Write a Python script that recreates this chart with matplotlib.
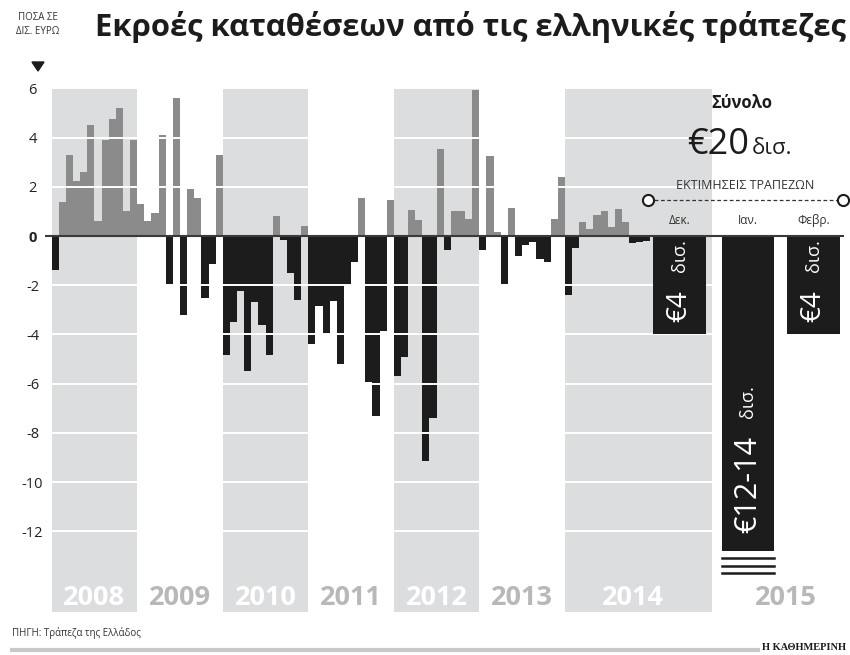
import numpy as np
import matplotlib.pyplot as plt
from matplotlib.patches import Polygon

# monthly deposit flows, bn euro, Jan 2008 .. Dec 2014
flows_2008 = [-1.4, 1.4, 3.3, 2.25, 2.6, 4.5, 0.6, 3.9, 4.75, 5.2, 1.0, 3.9]
flows_2009 = [1.3, 0.6, 0.95, 4.1, -1.95, 5.6, -3.2, 1.9, 1.55, -2.5, -1.15, 3.3]
flows_2010 = [-4.85, -3.5, -2.25, -5.5, -2.7, -3.6, -4.85, 0.8, -0.15, -1.5, -2.6, 0.4]
flows_2011 = [-4.4, -2.85, -4.0, -2.65, -5.2, -2.0, -1.05, 1.55, -5.95, -7.3, -3.85, 1.45]
flows_2012 = [-5.7, -4.9, 1.05, 0.65, -9.15, -7.4, 3.55, -0.55, 1.0, 1.0, 0.7, 5.95]
flows_2013 = [-0.55, 3.25, 0.15, -1.95, 1.15, -0.8, -0.35, -0.25, -0.95, -1.05, 0.7, 2.4]
flows_2014 = [-2.4, -0.5, 0.55, 0.3, 0.85, 1.0, 0.35, 1.1, 0.55, -0.3, -0.25, -0.2]
years = ['2008', '2009', '2010', '2011', '2012', '2013', '2014']

# bank estimates for the coming months
est_months = ['Δεκ.', 'Ιαν.', 'Φεβρ.']
est_values = [-4, -12.8, -4]
est_labels = ['€4', '€12-14', '€4']

yticks = [6, 4, 2, 0, -2, -4, -6, -8, -10, -12]

flows = flows_2008 + flows_2009 + flows_2010 + flows_2011 + flows_2012 + flows_2013 + flows_2014
flows = np.array(flows)
months = np.arange(len(flows))

GRAY_BAR = '#8b8b8b'
BLACK = '#1c1c1c'
BAND = '#dcdddf'
YEAR_GRAY = '#b8b8b8'

plt.rcParams['font.family'] = ['Open Sans', 'DejaVu Sans']

W, H = 850, 655
fig = plt.figure(figsize=(W / 100, H / 100), dpi=100)
ax = fig.add_axes([45 / W, (H - 612.4) / H, 805 / W, (612.4 - 88.4) / H])
ymin, ymax = -15.3, 6.0
ax.set_xlim(-0.94, 112)
ax.set_ylim(ymin, ymax)
for s in ax.spines.values():
    s.set_visible(False)
ax.set_xticks([])

def fx(px):
    return px / W

def fy(py):
    return 1 - py / H

# shaded year bands
for i, yr in enumerate(years):
    x0 = i * 12
    x1 = x0 + 12
    xc = x0 + 6
    if yr == '2014':
        x1 = 92.7
        xc = 81.5
    if i % 2 == 0:
        ax.fill_between([x0, x1], ymin, ymax, color=BAND, lw=0, zorder=0)
        col = 'white'
    else:
        col = YEAR_GRAY
    ax.text(xc, -14.7, yr, ha='center', va='center', fontsize=19.5,
            fontweight='bold', color=col, zorder=5)
ax.text(103, -14.7, '2015', ha='center', va='center', fontsize=19.5,
        fontweight='bold', color=YEAR_GRAY, zorder=5)

# monthly bars
colors = [GRAY_BAR if v > 0 else BLACK for v in flows]
ax.bar(months, flows, width=1.0, align='edge', color=colors, lw=0, zorder=1)

# white grid across bands and bars
for t in yticks:
    if t != 0:
        ax.plot([0, 92.7], [t, t], color='white', lw=1.4, zorder=2)

# estimate bars
est_x = [84.4, 94.0, 103.2]
est_w = 7.4
ax.bar(est_x, est_values, width=est_w, align='edge', color=BLACK, lw=0, zorder=3)
for x, m in zip(est_x, est_months):
    ax.text(x + est_w / 2, 0.62, m, ha='center', va='center', fontsize=8.5,
            color='#333333', zorder=5)
# "more to come" lines under January bar
for yl in [-13.1, -13.4, -13.7]:
    ax.plot([est_x[1], est_x[1] + est_w], [yl, yl], color=BLACK, lw=1.8, zorder=3)

# rotated labels inside estimate bars
for j in [0, 2]:
    ax.text(est_x[j] + est_w / 2, -2.85, est_labels[j], rotation=90, ha='center',
            va='center', fontsize=20, color='white', zorder=6)
    ax.text(est_x[j] + est_w / 2, -0.8, 'δισ.', rotation=90, ha='center', va='center',
            fontsize=13, color='white', zorder=6)
ax.text(est_x[1] + est_w / 2, -10.1, est_labels[1], rotation=90, ha='center', va='center',
        fontsize=22, color='white', zorder=6)
ax.text(est_x[1] + est_w / 2, -6.75, 'δισ.', rotation=90, ha='center', va='center',
        fontsize=13, color='white', zorder=6)

# zero line
ax.plot([-0.94, 111.0], [0, 0], color='#3a3a3a', lw=1.5, zorder=4)

# estimates header
ax.plot([83.6, 111.0], [1.46, 1.46], color='#333333', lw=0.9, ls=(0, (3, 2)), zorder=4)
ax.plot([83.6, 111.0], [1.46, 1.46], ls='none', marker='o', ms=8, mfc='white',
        mec=BLACK, mew=1.5, zorder=5, clip_on=False)
ax.text(97.3, 2.05, 'ΕΚΤΙΜΗΣΕΙΣ ΤΡΑΠΕΖΩΝ', ha='center', va='center', fontsize=9,
        color='#333333', zorder=5)
ax.text(96.9, 5.4, 'Σύνολο', ha='center', va='center', fontsize=12,
        fontweight='bold', color=BLACK, zorder=5)
ax.text(97.9, 3.7, '€20', ha='right', va='center', fontsize=26, color=BLACK, zorder=5)
ax.text(98.2, 3.55, 'δισ.', ha='left', va='center', fontsize=16, color=BLACK, zorder=5)

# y axis labels
ax.set_yticks(yticks)
ax.set_yticklabels([str(t) for t in yticks])
ax.tick_params(axis='y', length=0, pad=9, labelsize=10.5, labelcolor='#222222')
for lbl in ax.get_yticklabels():
    lbl.set_ha('center')
    if lbl.get_text() == '0':
        lbl.set_fontweight('bold')

# title and unit note
fig.text(fx(95), fy(27), 'Εκροές καταθέσεων από τις ελληνικές τράπεζες', ha='left',
         va='center', fontsize=22.3, fontweight='bold', color=BLACK)
fig.text(fx(38), fy(18), 'ΠΟΣΑ ΣΕ', ha='center', va='center', fontsize=7, color='#333333')
fig.text(fx(38), fy(31), 'ΔΙΣ. ΕΥΡΩ', ha='center', va='center', fontsize=7, color='#333333')
tri = Polygon([[fx(32), fy(62)], [fx(44), fy(62)], [fx(38), fy(71)]], closed=True,
              transform=fig.transFigure, color=BLACK)
fig.patches.append(tri)

# footer
fig.text(fx(12), fy(633), 'ΠΗΓΗ: Τράπεζα της Ελλάδος', ha='left', va='center',
         fontsize=7, color='#333333')
fig.add_artist(plt.Line2D([fx(12), fx(758)], [fy(650), fy(650)], color='#c8c8c8', lw=3))
fig.text(fx(762), fy(647), 'Η ΚΑΘΗΜΕΡΙΝΗ', ha='left', va='center', fontsize=7.5,
         fontweight='bold', family='Liberation Serif', color=BLACK)

fig.savefig('out.png', dpi=100)
